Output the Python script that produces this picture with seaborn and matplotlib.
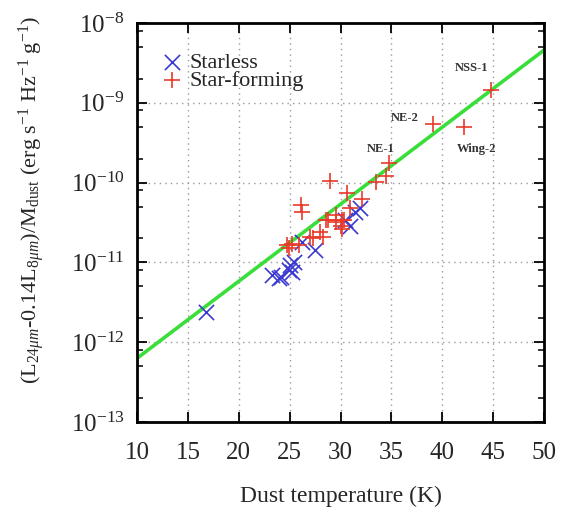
import numpy as np
import pandas as pd
import matplotlib
matplotlib.use("Agg")
import matplotlib.pyplot as plt
from matplotlib.ticker import FixedLocator, LogFormatterMathtext, NullFormatter
import seaborn as sns

# Starless clumps: dust temperature (K) and (L24 - 0.14 L8) / Mdust
starless_T = [16.8, 23.3, 23.9, 24.1, 24.9, 25.0, 25.2, 25.4, 26.2, 27.5, 30.4, 30.9, 31.4, 31.9]
starless_L = [2.4e-12, 6.9e-12, 6.3e-12, 6.5e-12, 8.0e-12, 9.2e-12, 7.6e-12, 1.0e-11,
              1.8e-11, 1.43e-11, 3.4e-11, 2.9e-11, 4.3e-11, 4.8e-11]

# Star-forming clumps
sf_T = [24.7, 24.9, 25.2, 25.9, 26.1, 26.2, 27.0, 27.3, 28.0, 28.3, 28.6, 28.8, 29.0,
        29.5, 29.5, 30.0, 30.1, 30.1, 30.3, 30.6, 30.9, 32.1, 33.5, 34.5, 34.8,
        39.1, 42.1, 44.75]
sf_L = [1.65e-11, 1.5e-11, 1.7e-11, 1.65e-11, 5.2e-11, 4.3e-11, 2.1e-11, 2.0e-11, 2.4e-11,
        2.1e-11, 3.4e-11, 3.4e-11, 1.04e-10, 3.2e-11, 3.9e-11, 2.9e-11, 3.4e-11, 2.6e-11,
        3.4e-11, 7.5e-11, 4.8e-11, 6.3e-11, 1.02e-10, 1.2e-10, 1.74e-10,
        5.4e-10, 4.9e-10, 1.45e-9]

# Named regions: label text, text position (T, value)
region_names = ["NSS-1", "NE-2", "NE-1", "Wing-2"]
region_T = [42.9, 36.3, 33.9, 43.4]
region_L = [2.7e-9, 6.5e-10, 2.6e-10, 2.6e-10]

# Log-linear fit: log10(L/M) = slope * T + intercept
fit_slope = 0.0965
fit_intercept = -13.165
fit_T = [10, 50]

# Axis ticks
x_ticks = [10, 15, 20, 25, 30, 35, 40, 45, 50]
y_decades = [-13, -12, -11, -10, -9, -8]

sns.set_theme(style="ticks")
plt.rcParams["font.family"] = ["Liberation Serif", "DejaVu Serif"]
plt.rcParams["mathtext.fontset"] = "custom"
plt.rcParams["mathtext.rm"] = "Liberation Serif"
plt.rcParams["mathtext.it"] = "Liberation Serif:italic"
plt.rcParams["mathtext.bf"] = "Liberation Serif:bold"

fig = plt.figure(figsize=(5.71, 5.08), dpi=100)
ax = fig.add_axes([0.240, 0.169, 0.713, 0.786])

fit_df = pd.DataFrame({"T": fit_T,
                       "L": [10 ** (fit_slope * t + fit_intercept) for t in fit_T]})
sns.lineplot(data=fit_df, x="T", y="L", ax=ax, color="#3ade3a", lw=2.6, zorder=2)

sl = pd.DataFrame({"T": starless_T, "L": starless_L})
sf = pd.DataFrame({"T": sf_T, "L": sf_L})
sns.scatterplot(data=sl, x="T", y="L", ax=ax, marker="x", s=120, color="#3a3ad0",
                linewidth=1.2, label="Starless", zorder=3)
sns.scatterplot(data=sf, x="T", y="L", ax=ax, marker="+", s=140, color="#e83a2a",
                linewidth=1.2, label="Star-forming", zorder=4)

for name, t, l in zip(region_names, region_T, region_L):
    ax.text(t, l, name, fontsize=9, fontweight="bold", ha="center", va="center",
            color="#333333")

ax.set_yscale("log")
ax.set_xlim(10, 50)
ax.set_ylim(1e-13, 1e-8)
ax.xaxis.set_major_locator(FixedLocator(x_ticks))
ax.yaxis.set_major_locator(FixedLocator([10.0 ** d for d in y_decades]))
ax.yaxis.set_major_formatter(LogFormatterMathtext())
minor_y = [m * 10.0 ** d for d in y_decades[:-1] for m in (2, 5, 8)]
ax.yaxis.set_minor_locator(FixedLocator(minor_y))
ax.yaxis.set_minor_formatter(NullFormatter())

ax.tick_params(which="both", direction="in", top=True, right=True, color="black")
ax.tick_params(which="major", length=7, width=1.3, labelsize=18)
ax.tick_params(which="minor", length=4, width=1.1)
ax.tick_params(axis="x", which="major", pad=14)
ax.tick_params(axis="y", which="major", pad=9)
for sp in ax.spines.values():
    sp.set_linewidth(2.0)
    sp.set_color("black")

ax.grid(True, which="major", color="#999999", linestyle=(0, (1, 3)), linewidth=1.0)

ax.set_xlabel("Dust temperature (K)", fontsize=17, labelpad=16)
ax.set_ylabel(r"(L$_{24\mu m}$-0.14L$_{8\mu m}$)/M$_{\rm dust}$ (erg s$^{-1}$ Hz$^{-1}$ g$^{-1}$)",
              fontsize=16)
ax.yaxis.set_label_coords(-0.222, 0.556)

leg = ax.legend(loc="upper left", bbox_to_anchor=(0.012, 0.965), frameon=False,
                fontsize=16, handletextpad=0.1, borderaxespad=0.3,
                labelspacing=-0.1, handlelength=1.35)

fig.savefig("out.png", dpi=100)
